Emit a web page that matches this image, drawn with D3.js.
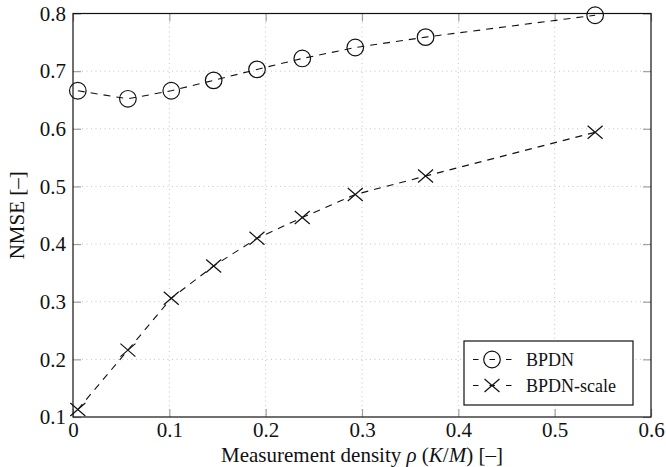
<!DOCTYPE html>
<html>
<head>
<meta charset="utf-8">
<script src="https://cdn.jsdelivr.net/npm/d3@7"></script>
<style>
  body { margin: 0; background: #fff; }
  svg text { font-family: "Liberation Serif", "DejaVu Serif", serif; fill: #111; }
</style>
</head>
<body>
<div id="viz"></div>
<script>
// chart values
let densities = [0.005, 0.057, 0.102, 0.146, 0.191, 0.238, 0.293, 0.366, 0.542];
let nmseBPDN = [0.666, 0.652, 0.666, 0.684, 0.703, 0.722, 0.741, 0.759, 0.797];
let nmseScale = [0.113, 0.216, 0.306, 0.362, 0.410, 0.446, 0.486, 0.518, 0.594];
let xTicks = [0, 0.1, 0.2, 0.3, 0.4, 0.5, 0.6];
let yTicks = [0.1, 0.2, 0.3, 0.4, 0.5, 0.6, 0.7, 0.8];
let seriesNames = ["BPDN", "BPDN-scale"];

let w = 666;
let h = 467;
let padL = 73, padR = 651, padT = 13.5, padB = 417;
let serif = "'Liberation Serif', 'DejaVu Serif', serif";

let viz = d3.select("#viz")
  .append("svg")
    .attr("width", w)
    .attr("height", h)
;

let xScale = d3.scaleLinear().domain([0, 0.6]).range([padL, padR]);
let yScale = d3.scaleLinear().domain([0.1, 0.8]).range([padB, padT]);

// grid (dotted)
let grid = viz.append("g");
grid.selectAll(".gx").data(xTicks.slice(1, -1)).enter()
  .append("line")
    .attr("x1", d => xScale(d)).attr("x2", d => xScale(d))
    .attr("y1", padT).attr("y2", padB)
    .attr("stroke", "#c4c4c4")
    .attr("stroke-width", 1)
    .attr("stroke-dasharray", "1,3.5");
grid.selectAll(".gy").data(yTicks.slice(1, -1)).enter()
  .append("line")
    .attr("y1", d => yScale(d)).attr("y2", d => yScale(d))
    .attr("x1", padL).attr("x2", padR)
    .attr("stroke", "#c4c4c4")
    .attr("stroke-width", 1)
    .attr("stroke-dasharray", "1,3.5");

// axes, ticks pointing inward on all four sides
let tickLen = 8;
let axB = viz.append("g").attr("transform", "translate(0," + padB + ")")
  .call(d3.axisBottom(xScale).tickValues(xTicks).tickSizeInner(-tickLen).tickSizeOuter(0).tickPadding(5)
    .tickFormat(d => d === 0 ? "0" : d3.format(".1f")(d)));
let axT = viz.append("g").attr("transform", "translate(0," + padT + ")")
  .call(d3.axisTop(xScale).tickValues(xTicks).tickSizeInner(-tickLen).tickSizeOuter(0).tickFormat(""));
let axL = viz.append("g").attr("transform", "translate(" + padL + ",0)")
  .call(d3.axisLeft(yScale).tickValues(yTicks).tickSizeInner(-tickLen).tickSizeOuter(0).tickPadding(7)
    .tickFormat(d3.format(".1f")));
let axR = viz.append("g").attr("transform", "translate(" + padR + ",0)")
  .call(d3.axisRight(yScale).tickValues(yTicks).tickSizeInner(-tickLen).tickSizeOuter(0).tickFormat(""));

[axB, axT, axL, axR].forEach(function(a){
  a.attr("font-family", serif).attr("font-size", 21);
  a.select(".domain").remove();
  a.selectAll(".tick line").attr("stroke", "#a0a0a0").attr("stroke-width", 1.2);
  a.selectAll(".tick text")
    .style("font-family", serif)
    .style("font-size", "21px")
    .attr("fill", "#111");
});

// frame
viz.append("rect")
  .attr("x", padL).attr("y", padT)
  .attr("width", padR - padL).attr("height", padB - padT)
  .attr("fill", "none")
  .attr("stroke", "#111")
  .attr("stroke-width", 1.2);

// lines
let lineMaker = d3.line()
  .x(d => xScale(d[0]))
  .y(d => yScale(d[1]));

let bpdnPts = densities.map((d, i) => [d, nmseBPDN[i]]);
let scalePts = densities.map((d, i) => [d, nmseScale[i]]);

[bpdnPts, scalePts].forEach(function(pts){
  viz.append("path")
    .datum(pts)
    .attr("d", lineMaker)
    .attr("fill", "none")
    .attr("stroke", "#111")
    .attr("stroke-width", 1.1)
    .attr("stroke-dasharray", "7,6");
});

// markers
function drawCircle(g, cx, cy){
  g.append("circle")
    .attr("cx", cx).attr("cy", cy).attr("r", 8.3)
    .attr("fill", "none")
    .attr("stroke", "#111")
    .attr("stroke-width", 1.2);
}
function drawCross(g, cx, cy){
  let sx = 7.5, sy = 6.5;
  g.append("path")
    .attr("d", "M" + (cx - sx) + "," + (cy - sy) + "L" + (cx + sx) + "," + (cy + sy) +
               "M" + (cx - sx) + "," + (cy + sy) + "L" + (cx + sx) + "," + (cy - sy))
    .attr("fill", "none")
    .attr("stroke", "#111")
    .attr("stroke-width", 1.2);
}

let marks = viz.append("g");
bpdnPts.forEach(p => drawCircle(marks, xScale(p[0]), yScale(p[1])));
scalePts.forEach(p => drawCross(marks, xScale(p[0]), yScale(p[1])));

// axis labels
viz.append("text")
  .attr("x", (padL + padR) / 2)
  .attr("y", 462)
  .attr("text-anchor", "middle")
  .style("font-size", "21px")
  .html("Measurement density <tspan font-style='italic'>ρ</tspan> (<tspan font-style='italic'>K</tspan>/<tspan font-style='italic'>M</tspan>) [–]");

viz.append("text")
  .attr("transform", "translate(24," + ((padT + padB) / 2) + ") rotate(-90)")
  .attr("text-anchor", "middle")
  .style("font-size", "21px")
  .text("NMSE [–]");

// legend
let lx = 464, ly = 341, lw = 169, lh = 64;
let legend = viz.append("g");
legend.append("rect")
  .attr("x", lx).attr("y", ly).attr("width", lw).attr("height", lh)
  .attr("fill", "#fff")
  .attr("stroke", "#111")
  .attr("stroke-width", 1.2);

seriesNames.forEach(function(name, i){
  let yy = ly + 18.5 + i * 26;
  legend.append("line")
    .attr("x1", lx + 9).attr("x2", lx + 48)
    .attr("y1", yy).attr("y2", yy)
    .attr("stroke", "#111")
    .attr("stroke-width", 1.1)
    .attr("stroke-dasharray", "5.5,11");
  if (i === 0) drawCircle(legend, lx + 28, yy);
  else drawCross(legend, lx + 28, yy);
  legend.append("text")
    .attr("x", lx + 62)
    .attr("y", yy + 6)
    .style("font-size", "18px")
    .text(name);
});
</script>
</body>
</html>
